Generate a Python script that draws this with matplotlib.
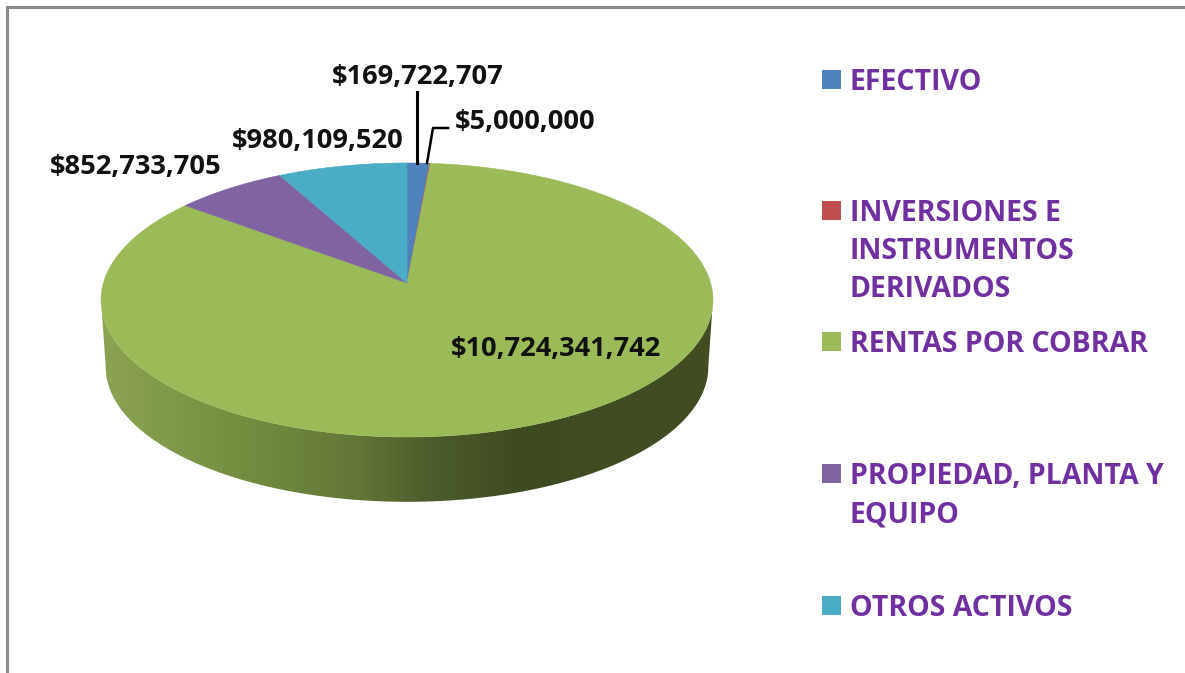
import numpy as np
import matplotlib
matplotlib.use('Agg')
import matplotlib.pyplot as plt
from matplotlib.colors import LinearSegmentedColormap
from matplotlib.patches import Polygon, Rectangle

plt.rcParams['font.family'] = ['Open Sans', 'DejaVu Sans']

# Values
categories = ['EFECTIVO', 'INVERSIONES E\nINSTRUMENTOS\nDERIVADOS', 'RENTAS POR COBRAR',
              'PROPIEDAD, PLANTA Y\nEQUIPO', 'OTROS ACTIVOS']
values = [169722707, 5000000, 10724341742, 852733705, 980109520]
colors = ['#4F81BD', '#C0504D', '#9BBB59', '#8064A2', '#4BACC6']

# Layout in pixels, same order as values
CX, CY = 407, 283
A, B, K = 303.6, 134.9, 0.124   # top ellipse with a bit of perspective
A2, B2, CY2 = 299, 133, 350     # rim at the bottom of the side
label_xy = [(418, 77), (525, 122), (556, 349), (136, 167), (318, 141)]
legend_y = [79, 210, 341, 473, 605]


def rim(theta, a=A, b=B, cy=CY):
    # theta clockwise from the back of the pie
    u, v = np.sin(theta), np.cos(theta)
    return np.column_stack((CX + a * u / (1 + K * v), cy - b * v / (1 + K * v)))


fig = plt.figure(figsize=(11.85, 6.73), dpi=100)
ax = fig.add_axes([0, 0, 1, 1])
ax.set_xlim(0, 1185)
ax.set_ylim(673, 0)
ax.axis('off')

# Frame of the screenshot, only top and left show
ax.plot([6.5, 6.5, 1185], [673, 6.5, 6.5], color='#8c8c8c', lw=2.2, solid_joinstyle='miter')

# Side of the pie: horizontal gradient clipped to the front band
sweep = np.linspace(0, 2 * np.pi, 721)
top = rim(sweep)
i_right, i_left = top[:, 0].argmax(), top[:, 0].argmin()
front = sweep[i_right:i_left + 1]
band = np.vstack((rim(front), rim(front[::-1], A2, B2, CY2)))
stops = [(0.0, (139, 163, 82)), (0.25, (114, 140, 63)), (0.42, (98, 118, 54)),
         (0.53, (78, 94, 44)), (0.68, (62, 74, 32)), (1.0, (66, 78, 34))]
cmap = LinearSegmentedColormap.from_list('side', [(p, tuple(c / 255 for c in rgb)) for p, rgb in stops])
im = ax.imshow(np.linspace(0, 1, 256)[None, :], cmap=cmap, aspect='auto',
               extent=(101, 713, 510, 280), zorder=1)
ax.set_xlim(0, 1185)
ax.set_ylim(673, 0)
clip = Polygon(band, closed=True, transform=ax.transData)
im.set_clip_path(clip)

# Top of the pie, slices from the values
angles = np.concatenate(([0], np.cumsum(values) / np.sum(values) * 2 * np.pi))
for start, end, col in zip(angles[:-1], angles[1:], colors):
    th = np.linspace(start, end, max(3, int((end - start) * 120)))
    pts = np.vstack(([CX, CY], rim(th)))
    ax.add_patch(Polygon(pts, closed=True, facecolor=col, edgecolor=col, lw=0.4, zorder=2))

# Leader lines of the two small slices
ax.plot([416.5, 416.5], [92, 163], color='black', lw=2.2, zorder=3)
ax.plot([427, 433, 448], [163, 128, 128], color='black', lw=1.8, zorder=3)

for (x, y), val in zip(label_xy, values):
    ax.text(x, y, f'${val:,}', ha='center', va='center', fontsize=19.6, fontweight='bold',
            color='#111111', zorder=4)

for y, cat, col in zip(legend_y, categories, colors):
    ax.add_patch(Rectangle((822, y - 9.5), 19, 19, facecolor=col, edgecolor='none'))
    ax.text(850, y - 11, cat, ha='left', va='top', fontsize=20.5, fontweight='bold',
            color='#7030A0', linespacing=1.42)

fig.savefig('out.png', dpi=100)
